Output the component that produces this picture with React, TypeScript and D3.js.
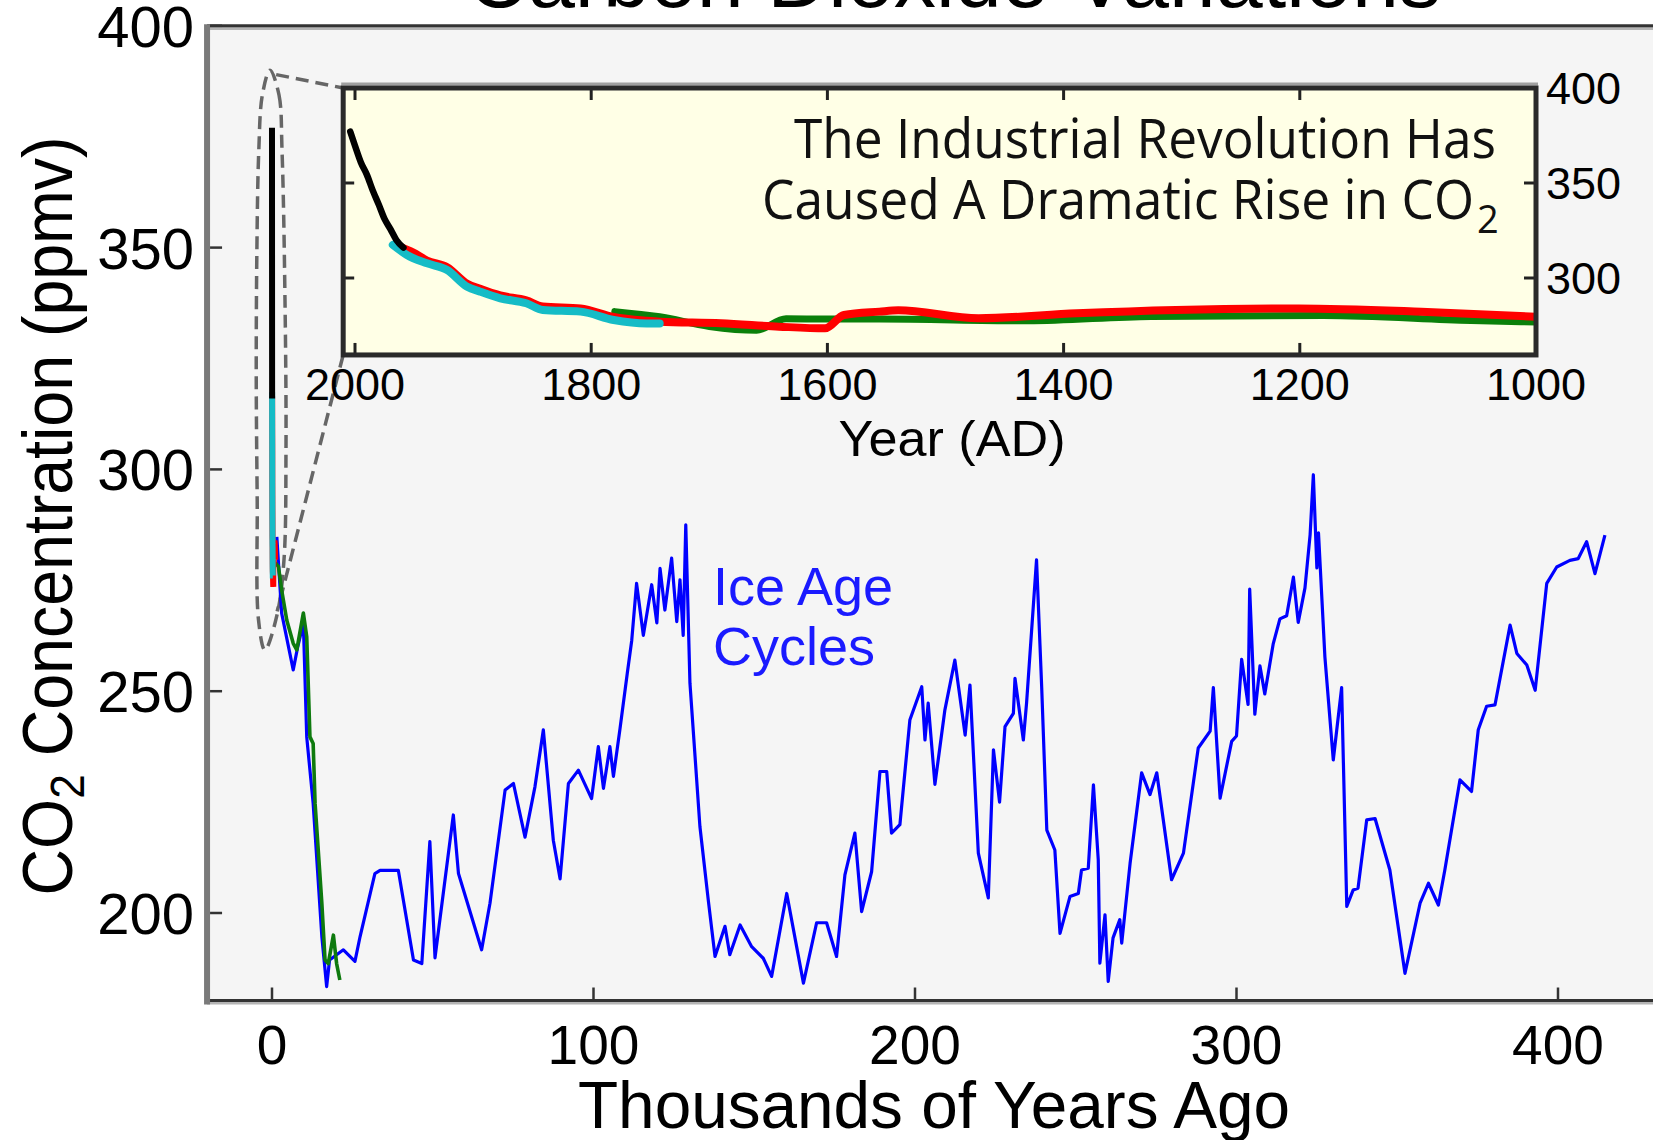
import * as d3 from 'd3';
import React from 'react';

// Vostok-type ice core record, [thousands of years ago, ppmv]
const iceAge: [number, number][] = [
  [1.5, 284.8], [3.0, 267.6], [6.6, 254.8], [8.0, 260.0], [9.75, 265.3], [10.8, 239.7],
  [12.8, 224.7], [15.5, 194.7], [17.0, 183.4], [17.9, 189.4], [22.2, 191.7], [25.8, 189.1],
  [27.4, 194.7], [32.0, 208.9], [33.6, 209.6], [39.3, 209.6], [44.0, 189.4], [46.6, 188.6],
  [49.1, 216.1], [50.7, 189.9], [56.4, 222.1], [58.0, 208.9], [65.2, 191.7], [67.8, 202.2],
  [72.5, 227.7], [75.1, 229.2], [78.7, 217.1], [81.8, 228.5], [84.4, 241.3], [87.5, 216.4],
  [89.6, 207.7], [92.2, 229.2], [95.3, 232.2], [99.4, 225.8], [101.5, 237.5], [103.1, 228.1],
  [105.1, 237.5], [106.2, 230.8], [108.2, 241.3], [110.5, 254.0], [111.9, 261.5], [113.4, 274.3],
  [115.5, 262.6], [118.1, 274.0], [119.7, 265.4], [120.7, 277.7], [122.2, 268.3], [124.3, 280.0],
  [125.9, 265.7], [126.9, 275.1], [127.9, 262.6], [128.7, 287.5], [130.0, 251.8], [133.1, 219.5],
  [135.7, 202.9], [137.8, 190.2], [140.9, 197.0], [142.4, 190.6], [145.6, 197.3], [149.2, 192.4],
  [152.8, 189.8], [155.4, 185.7], [160.1, 204.4], [165.3, 184.2], [169.4, 197.8], [172.5, 197.8],
  [175.6, 190.2], [178.2, 208.6], [181.3, 218.0], [183.4, 200.3], [186.5, 209.3], [189.1, 231.9],
  [191.2, 231.9], [192.7, 218.0], [195.3, 219.9], [198.4, 243.5], [202.1, 251.0], [203.1, 239.0],
  [204.1, 247.3], [206.2, 229.0], [209.3, 245.8], [212.4, 257.0], [215.6, 240.1], [217.1, 251.4],
  [219.7, 213.5], [222.8, 203.4], [224.4, 236.8], [226.3, 225.0], [228.0, 242.0], [230.6, 245.0],
  [231.1, 252.9], [233.7, 239.0], [234.7, 247.3], [237.8, 279.6], [239.4, 251.0], [241.0, 218.7],
  [243.5, 214.2], [245.1, 195.4], [248.2, 203.7], [250.8, 204.4], [251.8, 209.7], [253.9, 210.1],
  [255.5, 228.9], [257.0, 212.0], [257.5, 188.7], [259.1, 199.6], [260.1, 184.6], [261.6, 194.4],
  [263.7, 198.5], [264.3, 193.2], [266.9, 211.2], [270.5, 231.6], [273.1, 226.7], [275.2, 231.6],
  [279.8, 207.5], [283.5, 213.5], [288.1, 237.2], [291.8, 241.0], [292.8, 250.8], [294.9, 225.9],
  [298.5, 238.7], [300.0, 239.9], [301.6, 257.2], [303.6, 247.0], [304.1, 273.0], [305.7, 244.8],
  [307.3, 255.7], [308.8, 249.4], [311.4, 260.6], [313.5, 266.3], [315.6, 267.0], [317.7, 275.7],
  [319.2, 265.5], [321.3, 273.3], [322.9, 285.3], [323.9, 298.8], [325.0, 277.8], [325.5, 285.7],
  [327.5, 257.7], [330.1, 234.5], [332.7, 250.8], [334.3, 201.5], [336.3, 205.2], [337.8, 205.6],
  [340.5, 221.0], [343.1, 221.3], [347.7, 209.7], [352.4, 186.4], [357.1, 202.2], [359.7, 206.7],
  [362.8, 201.8], [364.8, 209.7], [369.5, 230.0], [373.1, 227.4], [375.2, 241.3], [377.8, 246.6],
  [380.4, 246.9], [385.1, 264.9], [387.2, 258.5], [390.3, 255.9], [392.9, 250.2], [396.5, 274.3],
  [399.6, 278.0], [403.7, 279.5], [406.3, 279.9], [408.9, 283.7], [411.5, 276.5], [414.6, 285.2]
];

// second core covering the last deglaciation, [kyr ago, ppmv]
const deglaciation: [number, number][] = [
  [1.0, 279.0], [2.0, 278.1], [3.0, 272.8], [4.6, 266.0], [6.6, 260.8], [7.7, 259.3],
  [9.75, 267.6], [10.8, 262.3], [11.8, 239.7], [12.8, 238.2], [13.4, 224.7], [15.5, 202.2],
  [16.5, 189.4], [17.5, 188.6], [19.1, 195.0], [20.1, 188.6], [21.1, 184.9]
];

// last millennium records, [year AD, ppmv]
const directRecord: [number, number][] = [
  [2004, 377.0], [2000, 369.6], [1995, 360.8], [1990, 354.4], [1985, 346.1], [1980, 338.8],
  [1975, 331.1], [1970, 325.7], [1965, 320.0], [1959, 316.0]
];
const cyanCore: [number, number][] = [
  [1968, 317.4], [1956, 312.1], [1939, 307.7], [1922, 304.2], [1905, 295.4], [1894, 292.8],
  [1877, 289.3], [1855, 286.7], [1841, 283.2], [1809, 282.3], [1781, 277.9], [1753, 276.1],
  [1742, 276.1]
];
const redCore: [number, number][] = [
  [1962, 316.5], [1951, 313.5], [1939, 309.2], [1922, 305.7], [1905, 297.0], [1894, 294.3],
  [1877, 290.8], [1855, 288.2], [1841, 285.0], [1809, 284.0], [1781, 279.5], [1753, 277.5],
  [1742, 277.0], [1690, 276.2], [1641, 274.4], [1602, 273.5], [1586, 280.5], [1556, 282.3],
  [1540, 283.0], [1472, 278.8], [1389, 281.4], [1305, 283.2], [1201, 284.0], [1097, 282.3],
  [1000, 279.6]
];
const greenCore: [number, number][] = [
  [1780, 282.3], [1742, 279.6], [1700, 274.5], [1660, 272.5], [1635, 278.5], [1600, 278.4],
  [1556, 278.4], [1430, 277.5], [1326, 279.8], [1180, 280.2], [1055, 277.6], [1000, 276.8]
];

// dashed zoom loop around the present day, [kyr ago, ppmv]
const zoomLoop: [number, number][] = [
  [-0.62, 390.0], [2.18, 384.4], [3.11, 372.0], [4.04, 338.2], [4.35, 304.4], [3.73, 279.6],
  [1.56, 267.2], [-2.2, 259.3], [-4.2, 266.1], [-4.6, 293.1], [-4.9, 320.2], [-4.7, 349.5],
  [-4.1, 372.0], [-3.0, 384.4]
];

const mainXTicks = [0, 100, 200, 300, 400];
const mainYTicks = [200, 250, 300, 350, 400];
const insetXTicks = [2000, 1800, 1600, 1400, 1200, 1000];
const insetYTicks = [300, 350, 400];

const W = 1653;
const H = 1140;
const FONT = '"Liberation Sans", Arial, Helvetica, sans-serif';
const NOTE_FONT = '"Open Sans", "DejaVu Sans", sans-serif';

export default function App() {
  // main panel scales
  const x = d3.scaleLinear().domain([0, 400]).range([272, 1558]);
  const y = d3.scaleLinear().domain([200, 350]).range([913, 247.6]);
  const left = x(-20.2);
  const top = y(400);
  const bottom = y(180.5);

  // inset scales
  const ix = d3.scaleLinear().domain([2000, 1000]).range([355, 1536]);
  const iy = d3.scaleLinear().domain([300, 400]).range([278, 88]);
  const iLeft = ix(2010);
  const iRight = ix(1000);
  const iTop = iy(400);
  const iBottom = iy(259.5);

  const mainLine = d3.line<[number, number]>().x((d) => x(d[0])).y((d) => y(d[1]));
  // modern records drawn in the main panel at (2000 - year) / 1000 kyr
  const yearLine = d3.line<[number, number]>().x((d) => x((2000 - d[0]) / 1000)).y((d) => y(d[1]));
  const insetLine = d3
    .line<[number, number]>()
    .x((d) => ix(d[0]))
    .y((d) => iy(d[1]))
    .curve(d3.curveMonotoneX);
  const loopLine = d3
    .line<[number, number]>()
    .x((d) => x(d[0]))
    .y((d) => y(d[1]))
    .curve(d3.curveCatmullRomClosed);

  const dash = { stroke: '#666', strokeWidth: 3.5, strokeDasharray: '13 7', fill: 'none' };

  return (
    <div style={{ position: 'absolute', left: 0, top: 0, width: W, height: H, overflow: 'hidden', background: '#fff' }}>
      <svg width={W} height={H} style={{ display: 'block' }} fontFamily={FONT}>
        <defs>
          <clipPath id="insetClip">
            <rect x={iLeft} y={iTop} width={iRight - iLeft} height={iBottom - iTop} />
          </clipPath>
        </defs>

        {/* title, mostly cut off by the top edge */}
        <text x={954} y={7} textAnchor="middle" fontSize={84} textLength={974} lengthAdjust="spacingAndGlyphs">
          Carbon Dioxide Variations
        </text>

        {/* main panel */}
        <rect x={left} y={top} width={W - left + 20} height={bottom - top} fill="#f5f5f5" />

        {/* zoom indicator */}
        <path d={loopLine(zoomLoop) || ''} {...dash} />
        <line x1={x(1.3)} y1={y(389)} x2={iLeft} y2={iTop} {...dash} />
        <line x1={iLeft} y1={iBottom} x2={x(1.6)} y2={y(268)} {...dash} />

        <path d={mainLine(iceAge) || ''} fill="none" stroke="#0000ff" strokeWidth={3.2} strokeLinejoin="round" />
        <path d={mainLine(deglaciation) || ''} fill="none" stroke="#0e7a0e" strokeWidth={3.6} strokeLinejoin="round" />
        <path d={yearLine(redCore) || ''} fill="none" stroke="#ff0000" strokeWidth={6} />
        <path d={yearLine(cyanCore) || ''} fill="none" stroke="#15bcc6" strokeWidth={6} />
        <path d={yearLine(directRecord) || ''} fill="none" stroke="#000" strokeWidth={6} />

        <text fill="#1a1aff" fontSize={54}>
          <tspan x={713} y={605}>Ice Age</tspan>
          <tspan x={713} y={665}>Cycles</tspan>
        </text>

        {/* main frame */}
        <line x1={left} x2={W + 10} y1={top + 2.8} y2={top + 2.8} stroke="#b4b4b4" strokeWidth={3} />
        <line x1={left} x2={W + 10} y1={top} y2={top} stroke="#333" strokeWidth={3} />
        <line x1={left} x2={W + 10} y1={bottom + 3.5} y2={bottom + 3.5} stroke="#b4b4b4" strokeWidth={3} />
        <line x1={left} x2={W + 10} y1={bottom + 1} y2={bottom + 1} stroke="#333" strokeWidth={3} />
        <line x1={left} x2={left} y1={top - 1.5} y2={bottom + 5} stroke="#7a7a7a" strokeWidth={6} />

        {mainYTicks.map((t) => (
          <g key={'my' + t}>
            <line x1={left + 3} x2={left + 15} y1={y(t)} y2={y(t)} stroke="#333" strokeWidth={2.5} />
            <text x={194} y={y(t) + 21} textAnchor="end" fontSize={58}>
              {t}
            </text>
          </g>
        ))}
        {mainXTicks.map((t) => (
          <g key={'mx' + t}>
            <line x1={x(t)} x2={x(t)} y1={bottom - 12} y2={bottom} stroke="#333" strokeWidth={2.5} />
            <text x={x(t)} y={1064} textAnchor="middle" fontSize={55}>
              {t}
            </text>
          </g>
        ))}

        <text x={934} y={1128} textAnchor="middle" fontSize={67} textLength={712} lengthAdjust="spacingAndGlyphs">
          Thousands of Years Ago
        </text>
        <text
          transform="translate(72,516) rotate(-90)"
          textAnchor="middle"
          fontSize={70}
          textLength={759}
          lengthAdjust="spacingAndGlyphs"
        >
          CO
          <tspan fontSize={48} dy={12}>
            2
          </tspan>
          <tspan dy={-12}> Concentration (ppmv)</tspan>
        </text>

        {/* inset panel */}
        <line x1={iLeft - 2} x2={iRight + 2} y1={iTop - 4} y2={iTop - 4} stroke="#a0a0a0" strokeWidth={3} />
        <rect x={iLeft} y={iTop} width={iRight - iLeft} height={iBottom - iTop} fill="#ffffe6" />
        <g clipPath="url(#insetClip)">
          <path d={insetLine(greenCore) || ''} fill="none" stroke="#0a800a" strokeWidth={7} strokeLinecap="round" />
          <path d={insetLine(redCore) || ''} fill="none" stroke="#ff0000" strokeWidth={8} strokeLinecap="round" />
          <path d={insetLine(cyanCore) || ''} fill="none" stroke="#15bcc6" strokeWidth={8} strokeLinecap="round" />
          <path d={insetLine(directRecord) || ''} fill="none" stroke="#000" strokeWidth={6.5} strokeLinecap="round" />
        </g>

        <text
          x={1496}
          y={158}
          textAnchor="end"
          fontFamily={NOTE_FONT}
          fontSize={54}
          fill="#111"
          textLength={702}
          lengthAdjust="spacingAndGlyphs"
        >
          The Industrial Revolution Has
        </text>
        <text
          x={1474}
          y={219}
          textAnchor="end"
          fontFamily={NOTE_FONT}
          fontSize={54}
          fill="#111"
          textLength={712}
          lengthAdjust="spacingAndGlyphs"
        >
          Caused A Dramatic Rise in CO
        </text>
        <text x={1477} y={233} fontFamily={NOTE_FONT} fontSize={38} fill="#111">
          2
        </text>

        {insetXTicks.map((t) => (
          <g key={'ix' + t}>
            <line x1={ix(t)} x2={ix(t)} y1={iTop} y2={iTop + 12} stroke="#222" strokeWidth={3} />
            <line x1={ix(t)} x2={ix(t)} y1={iBottom - 12} y2={iBottom} stroke="#222" strokeWidth={3} />
            <text x={ix(t)} y={400} textAnchor="middle" fontSize={45}>
              {t}
            </text>
          </g>
        ))}
        {insetYTicks.map((t) => (
          <g key={'iy' + t}>
            <line x1={iLeft} x2={iLeft + 11} y1={iy(t)} y2={iy(t)} stroke="#222" strokeWidth={3} />
            <line x1={iRight - 12} x2={iRight} y1={iy(t)} y2={iy(t)} stroke="#222" strokeWidth={3} />
            <text x={1546} y={iy(t) + 16} fontSize={45}>
              {t}
            </text>
          </g>
        ))}
        <rect
          x={iLeft}
          y={iTop}
          width={iRight - iLeft}
          height={iBottom - iTop}
          fill="none"
          stroke="#2a2a2a"
          strokeWidth={5}
        />
        <text x={952} y={456} textAnchor="middle" fontSize={50} textLength={227} lengthAdjust="spacingAndGlyphs">
          Year (AD)
        </text>
      </svg>
    </div>
  );
}
